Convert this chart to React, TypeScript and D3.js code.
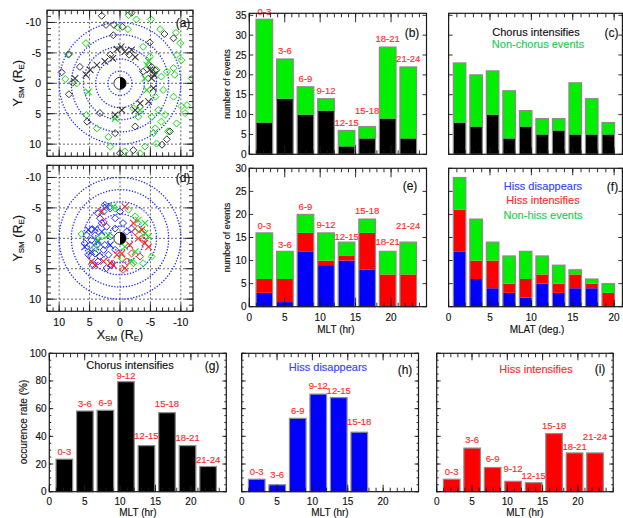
import React from 'react';
import * as d3 from 'd3';

const FONT = '"Liberation Sans", Arial, Helvetica, sans-serif';

// ---------- data ----------
const mltBins = ['0-3', '3-6', '6-9', '9-12', '12-15', '15-18', '18-21', '21-24'];
const mlatBins = ['0-2', '2-4', '4-6', '6-8', '8-10', '10-12', '12-14', '14-16', '16-18', '18-20'];

const chorusByMlt = [8, 14, 10, 11, 2, 4, 9, 4];
const nonChorusByMlt = [26, 10, 7, 3, 4, 3, 18, 18];
const chorusByMlat = [8, 7, 10, 4, 7, 5, 6, 5, 5, 5];
const nonChorusByMlat = [15, 13, 11, 12, 4, 4, 3, 13, 9, 3];

const hissDisByMlt = [3, 1, 12, 9, 10, 8, 0, 0];
const hissIntByMlt = [3, 5, 4, 1, 1, 8, 7, 7];
const nonHissByMlt = [10, 6, 4, 6, 3, 3, 5, 7];
const hissDisByMlat = [12, 6, 4, 3, 2, 5, 3, 4, 4, 0];
const hissIntByMlat = [9, 4, 6, 2, 4, 2, 2, 3, 1, 3];
const nonHissByMlat = [7, 9, 4, 6, 6, 4, 4, 1, 1, 2];

const chorusRate = [23.5, 58.3, 58.8, 79.5, 33.3, 57.1, 33.3, 18.2];
const hissDisRate = [9, 5, 53, 70.5, 68, 43, 0, 0];
const hissIntRate = [9, 31.5, 17.5, 7.5, 6.5, 42, 28, 28];

const xyTicks = [-10, -5, 0, 5, 10];
const mltTicks = [0, 5, 10, 15, 20];
const mlatTicks = [0, 5, 10, 15, 20];
const rateTicks = [0, 20, 40, 60, 80, 100];
const circleRadii = [2, 4, 6, 8, 10];

type Pt = [number, number];

// panel (a): X_SM, Y_SM in R_E
const chorusDiamondsA: Pt[] = [
  [-1.9, -11.6], [3.0, -11.1], [2.3, -9.6], [1.0, -9.6], [-0.4, -9.3], [-7.3, -8.1], [-8.8, -7.4],
  [1.1, -7.9], [-4.9, -6.7], [-1.5, -4.7], [1.6, -4.7], [8.4, -4.8], [6.6, -2.7], [9.6, -1.8],
  [7.8, -0.1], [8.4, 1.8], [3.3, 4.9], [5.4, 6.3], [-2.5, 7.1], [0.8, 8.2], [0, 11.5], [-2.2, 11.0],
  [-6.9, 10.1], [-7.7, 9.2], [-8.2, 7.9], [-5.5, -1.6], [-5.8, -2.1], [-5.2, -2.7], [-3.8, -1.9],
];
const chorusCrossesA: Pt[] = [
  [0.5, -5.6], [-0.2, -6.0], [-0.8, -5.2], [-1.9, -5.5], [-2.5, -4.3], [3.8, -3.0], [2.5, -3.6],
  [1.2, -4.1], [4.9, -2.2], [5.6, -1.4], [7.4, -0.8], [-5.2, -0.8], [-5.5, 0.8], [-4.7, 3.0],
  [-3.3, 3.3], [-2.5, 4.4], [-0.3, 4.4], [0.8, 5.2], [-5.6, -1.4], [-4.9, -2.2],
];
const nonChorusDiamondsA: Pt[] = [
  [-1.4, -11.2], [-2.7, -10.5], [-5.1, -10.5], [0.4, -9.2], [-1.3, -8.9], [-6.6, -8.9], [-9.2, -8.3],
  [5.6, -6.6], [-3.8, -6.0], [-9.9, -6.6], [-9.3, -4.7], [-10.1, -3.8], [8.5, -4.7], [-4.9, -4.4],
  [9.0, -0.7], [7.1, 0], [-6.0, -2.2], [-7.7, -1.9], [-8.8, -2.5], [-9.0, -1.4], [-6.8, -1.1],
  [-11.8, -0.8], [-7.1, 1.1], [-8.8, 2.2], [-5.8, 2.2], [-2.2, 4.1], [-3.0, 5.5], [-6.3, 4.4],
  [-7.4, 5.2], [-5.2, 5.5], [-6.8, 6.3], [-5.8, 7.4], [-9.3, 6.6], [-11.0, 3.6], [5.5, 5.2],
  [3.8, 7.4], [1.9, 8.8], [1.6, 10.4], [-0.8, 11.2], [-3.3, 11.5], [-4.1, 10.4], [-6.0, 9.9],
  [-7.9, 7.9], [-5.5, 8.2], [-10.1, 3.8], [-10.7, 4.9],
];
const nonChorusCrossesA: Pt[] = [
  [-4.4, -3.0], [-4.7, -3.6], [-4.4, 1.1], [5.2, 1.4], [-3.3, 4.4], [0.8, 5.8], [-4.1, -0.8],
];

// panel (d)
const hissDisDiamondsD: Pt[] = [
  [2.5, -5.5], [1.6, -4.9], [2.7, -4.4], [3.6, -4.1], [3.0, -2.5], [4.7, -1.4], [5.5, -0.5], [4.1, -0.5],
  [4.9, 1.1], [3.8, 1.1], [4.1, 2.5], [5.2, 2.7], [3.6, 3.8], [4.4, 4.4], [2.2, 4.9], [1.4, 4.4],
  [1.9, 2.7], [0.8, 1.9], [2.5, 1.1], [1.6, -0.3], [0.8, -1.6], [2.2, -1.9], [0.8, -3.3], [0, -4.4],
  [-0.5, -2.5], [-1.9, -1.6], [-1.1, -1.1], [3.3, -3.3], [5.8, 0.8], [4.7, 0.3], [2.7, 1.9], [3.3, 3.0],
];
const hissDisCrossesD: Pt[] = [
  [5.2, -1.4], [4.1, -1.6], [3.0, -1.1], [4.7, 2.2], [5.8, 1.4], [3.6, 0.5], [1.6, 1.1], [2.2, -5.2],
];
const hissIntCrossesD: Pt[] = [
  [-0.8, -5.2], [3.0, -4.4], [-2.2, -2.5], [-3.0, 0], [-1.6, 1.1], [-4.1, 0.8], [-4.7, 1.4], [4.7, 3.8],
  [4.1, 4.4], [2.7, 3.8], [0.5, 2.7], [-0.3, 2.5], [1.6, 4.1], [1.1, 4.4], [-0.8, 4.9], [-3.6, -1.4],
];
const hissIntDiamondsD: Pt[] = [
  [2.7, -2.7], [-2.5, -1.1], [-3.8, 0.3], [-1.9, 2.5], [-0.5, 5.2], [-3.3, 3.0], [-1.1, 3.8],
];
const nonHissCrossesD: Pt[] = [
  [1.1, -5.2], [-3.0, -3.0], [-4.1, -2.5], [3.6, 0.3], [1.9, -0.5], [-2.5, 2.2], [-4.7, -0.3],
  [-4.1, -0.8], [-0.8, 1.4], [-1.9, 3.8],
];
const nonHissDiamondsD: Pt[] = [
  [6.3, -0.7], [0.8, -4.9], [-1.4, -4.7], [-2.5, -3.6], [-3.0, -1.6], [-3.8, -1.1], [-2.2, 4.1],
  [-3.8, 4.1], [-5.2, 3.0], [-0.3, 3.3], [4.1, 1.6], [3.0, -0.3],
];

// ---------- layout: how far (px) each bin label sits above its bar ----------
const liftB = [8, 8, 8.5, 8.5, 8, 16, 8.5, 8];
const liftE = [7, 7.3, 8, 8, 6, 8.5, 9.5, 16.3];
const liftG = [7.3, 7.7, 7.7, 6, 10, 8.7, 7.7, 6.7];
const liftH = [7.3, 10, 7.7, 8.7, 6.7, 10.7, 8, 8];
const liftI = [8, 9, 9, 12.7, 7, 7.7, 6.7, 16.7];

// ---------- colours ----------
const GREEN = '#00ee00';
const RED = '#ff0000';
const BLUE = '#0000ff';
const LABEL_RED = '#ff2b2b';
const FRAME = '#1a1a1a';

// ---------- helpers ----------
type Lin = d3.ScaleLinear<number, number>;

function range(a: number, b: number, step: number) {
  return d3.range(a, b + 1e-9, step);
}

function Frame({ sx, sy, xMajor, xMinor, yMajor, yMinor, xMaj = 9, xMin = 4, yMaj = 4, yMin = 2 }:
  { sx: Lin; sy: Lin; xMajor: number[]; xMinor: number[]; yMajor: number[]; yMinor: number[]; xMaj?: number; xMin?: number; yMaj?: number; yMin?: number }) {
  const [xa, xb] = sx.range();
  const [ya, yb] = sy.range();
  const left = Math.min(xa, xb), right = Math.max(xa, xb);
  const top = Math.min(ya, yb), bottom = Math.max(ya, yb);
  const segs: number[][] = [];
  const addX = (v: number, len: number) => {
    const p = sx(v);
    segs.push([p, top, p, top + len], [p, bottom, p, bottom - len]);
  };
  const addY = (v: number, len: number) => {
    const p = sy(v);
    segs.push([left, p, left + len, p], [right, p, right - len, p]);
  };
  xMinor.forEach((v) => addX(v, xMin));
  xMajor.forEach((v) => addX(v, xMaj));
  yMinor.forEach((v) => addY(v, yMin));
  yMajor.forEach((v) => addY(v, yMaj));
  return (
    <g>
      {segs.map((s, i) => (
        <line key={i} x1={s[0]} y1={s[1]} x2={s[2]} y2={s[3]} stroke={FRAME} strokeWidth={0.9} />
      ))}
      <rect x={left} y={top} width={right - left} height={bottom - top} fill="none" stroke={FRAME} strokeWidth={1.2} />
    </g>
  );
}

function T({ x, y, children, size = 10, fill = '#111', anchor = 'middle', rotate = 0 }: any) {
  return (
    <text
      x={rotate ? 0 : x}
      y={rotate ? 0 : y}
      transform={rotate ? `translate(${x},${y}) rotate(${rotate})` : undefined}
      fontFamily={FONT}
      fontSize={size}
      fill={fill}
      stroke={fill}
      strokeWidth={0.15}
      textAnchor={anchor}
      dominantBaseline="central"
    >
      {children}
    </text>
  );
}

function Diamond({ x, y, color }: { x: number; y: number; color: string }) {
  const r = 3.5;
  return <path d={`M${x},${y - r}L${x + r},${y}L${x},${y + r}L${x - r},${y}Z`} fill="none" stroke={color} strokeWidth={1} />;
}
function Cross({ x, y, color }: { x: number; y: number; color: string }) {
  const r = 3.3;
  return (
    <path d={`M${x - r},${y - r}L${x + r},${y + r}M${x - r},${y + r}L${x + r},${y - r}`} stroke={color} strokeWidth={1.05} fill="none" />
  );
}

type MarkerSet = { pts: Pt[]; shape: 'd' | 'x'; color: string };

function ScatterPanel({ top, tag, sets, showX }: { top: number; tag: string; sets: MarkerSet[]; showX: boolean }) {
  const sx = d3.scaleLinear().domain([12, -12]).range([47, 193]);
  const sy = d3.scaleLinear().domain([-12, 12]).range([top, top + 146]);
  const cx = sx(0), cy = sy(0);
  const re = Math.abs(sx(1) - sx(0));
  const minor = range(-12, 12, 1);
  return (
    <g>
      <defs>
        <clipPath id={`clip-${tag}`}>
          <rect x={47} y={top} width={146} height={146} />
        </clipPath>
      </defs>
      <g clipPath={`url(#clip-${tag})`}>
        {xyTicks.map((v) => (
          <g key={v}>
            <line x1={sx(v)} x2={sx(v)} y1={sy(-12)} y2={sy(12)} stroke="#222" strokeWidth={0.7} strokeDasharray="2,2" />
            <line y1={sy(v)} y2={sy(v)} x1={sx(-12)} x2={sx(12)} stroke="#222" strokeWidth={0.7} strokeDasharray="2,2" />
          </g>
        ))}
        {circleRadii.map((r) => (
          <circle key={r} cx={cx} cy={cy} r={r * re} fill="none" stroke="#2233ff" strokeWidth={1.5}
            strokeDasharray="0.01 2.9" strokeLinecap="round" />
        ))}
        {sets.map((s, k) =>
          s.pts.map((p, i) =>
            s.shape === 'd' ? (
              <Diamond key={`${k}-${i}`} x={sx(p[0])} y={sy(p[1])} color={s.color} />
            ) : (
              <Cross key={`${k}-${i}`} x={sx(p[0])} y={sy(p[1])} color={s.color} />
            )
          )
        )}
        <circle cx={cx} cy={cy} r={re} fill="#fff" stroke="#000" strokeWidth={0.8} />
        <path d={`M${cx},${cy - re}A${re},${re} 0 0 1 ${cx},${cy + re}Z`} fill="#000" />
      </g>
      <Frame sx={sx} sy={sy} xMajor={xyTicks} xMinor={minor} yMajor={xyTicks} yMinor={minor} xMaj={8} xMin={4} yMaj={8} yMin={4} />
      {xyTicks.map((v) => (
        <T key={v} x={41} y={sy(v)} anchor="end" size={10.5}>{v}</T>
      ))}
      {showX &&
        xyTicks.map((v) => (
          <T key={v} x={sx(v)} y={top + 157} size={10.5}>{v}</T>
        ))}
      <T x={183} y={top + 13} size={12}>{`(${tag})`}</T>
      <text transform={`translate(18,${cy}) rotate(-90)`} fontFamily={FONT} fontSize={12.5} textAnchor="middle" dominantBaseline="central" fill="#111" stroke="#111" strokeWidth={0.15}>
        <tspan>Y</tspan>
        <tspan fontSize={8} dy={3}>SM</tspan>
        <tspan dy={-3}> (R</tspan>
        <tspan fontSize={8} dy={3}>E</tspan>
        <tspan dy={-3}>)</tspan>
      </text>
      {showX && (
        <text x={cx} y={top + 170} fontFamily={FONT} fontSize={12.5} textAnchor="middle" dominantBaseline="central" fill="#111" stroke="#111" strokeWidth={0.15}>
          <tspan>X</tspan>
          <tspan fontSize={8} dy={3}>SM</tspan>
          <tspan dy={-3}> (R</tspan>
          <tspan fontSize={8} dy={3}>E</tspan>
          <tspan dy={-3}>)</tspan>
        </text>
      )}
    </g>
  );
}

type Layer = { values: number[]; color: string };

function Bars({ sx, sy, cats, bandLo, bandHi, pad, layers, lifts }:
  { sx: Lin; sy: Lin; cats: string[]; bandLo: number; bandHi: number; pad: number; layers: Layer[]; lifts?: number[] }) {
  const band = d3.scaleBand<string>().domain(cats).range([sx(bandLo), sx(bandHi)]).paddingInner(pad).paddingOuter(0);
  const keys = layers.map((_, k) => `k${k}`);
  const rows = cats.map((c, i) => {
    const r: any = { cat: c };
    layers.forEach((l, k) => (r[`k${k}`] = l.values[i]));
    return r;
  });
  const series = d3.stack<any>().keys(keys)(rows);
  const totals = rows.map((_, i) => series[series.length - 1][i][1]);
  return (
    <g>
      {series.map((s, k) =>
        s.map((d, i) =>
          d[1] > d[0] ? (
            <rect key={`${k}-${i}`} x={band(cats[i])} width={band.bandwidth()} y={sy(d[1])} height={sy(d[0]) - sy(d[1])} fill={layers[k].color} />
          ) : null
        )
      )}
      {totals.map((t, i) =>
        t > 0 ? (
          <rect key={`o${i}`} x={band(cats[i])} width={band.bandwidth()} y={sy(t)} height={sy(0) - sy(t)} fill="none" stroke="#8c8c8c" strokeWidth={1.2} />
        ) : null
      )}
      {lifts &&
        totals.map((t, i) =>
          t > 0 ? (
            <T key={`l${i}`} x={(band(cats[i]) as number) + band.bandwidth() / 2} y={sy(t) - lifts[i]} size={9.5} fill={LABEL_RED}>
              {cats[i]}
            </T>
          ) : null
        )}
    </g>
  );
}

export default function App() {
  // scales
  const sxB = d3.scaleLinear().domain([0, 25]).range([249.3, 426.5]);
  const sxC = d3.scaleLinear().domain([0, 21]).range([448.6, 622.4]);
  const syB = d3.scaleLinear().domain([0, 35.5]).range([154.3, 13.3]);
  const syE = d3.scaleLinear().domain([0, 30]).range([306.7, 168.3]);
  const sxG = d3.scaleLinear().domain([0, 25]).range([49.3, 226.3]);
  const sxH = d3.scaleLinear().domain([0, 25]).range([241.7, 418.5]);
  const sxI = d3.scaleLinear().domain([0, 25]).range([436.7, 613.2]);
  const syG = d3.scaleLinear().domain([0, 100]).range([491.7, 353.3]);

  const mltMinor = range(0, 25, 1);
  const mlatMinor = range(0, 21, 1);
  const cntMajor35 = range(0, 35, 5);
  const cntMajor30 = range(0, 30, 5);
  const rateMinor = range(0, 100, 5);

  const MLT_LO = 0.95, MLT_HI = 23.6, MLT_PAD = 0.19;
  const MLAT_LO = 0.57, MLAT_HI = 20.05, MLAT_PAD = 0.24;

  return (
    <svg width={623} height={518} style={{ position: 'absolute', left: 0, top: 0, background: '#fff' }}>
      <rect width={623} height={518} fill="#fff" />
      {/* (a) */}
      <ScatterPanel
        top={10.3}
        tag="a"
        showX={false}
        sets={[
          { pts: nonChorusDiamondsA, shape: 'd', color: '#11dd11' },
          { pts: nonChorusCrossesA, shape: 'x', color: '#11dd11' },
          { pts: chorusDiamondsA, shape: 'd', color: '#333' },
          { pts: chorusCrossesA, shape: 'x', color: '#333' },
        ]}
      />
      {/* (d) */}
      <ScatterPanel
        top={165.3}
        tag="d"
        showX={true}
        sets={[
          { pts: hissDisDiamondsD, shape: 'd', color: '#2233ff' },
          { pts: hissDisCrossesD, shape: 'x', color: '#2233ff' },
          { pts: nonHissDiamondsD, shape: 'd', color: '#11dd11' },
          { pts: nonHissCrossesD, shape: 'x', color: '#11dd11' },
          { pts: hissIntDiamondsD, shape: 'd', color: '#ff2222' },
          { pts: hissIntCrossesD, shape: 'x', color: '#ff2222' },
        ]}
      />

      {/* (b) */}
      <Bars sx={sxB} sy={syB} cats={mltBins} bandLo={MLT_LO} bandHi={MLT_HI} pad={MLT_PAD} lifts={liftB}
        layers={[{ values: chorusByMlt, color: '#000' }, { values: nonChorusByMlt, color: GREEN }]} />
      <Frame sx={sxB} sy={syB} xMajor={mltTicks} xMinor={mltMinor} yMajor={cntMajor35} yMinor={[]} />
      {cntMajor35.map((v) => (
        <T key={v} x={246.5} y={syB(v)} anchor="end" size={10}>{v}</T>
      ))}
      <T x={227} y={84} size={9} rotate={-90}>number of events</T>
      <T x={412} y={33} size={12}>(b)</T>

      {/* (c) */}
      <Bars sx={sxC} sy={syB} cats={mlatBins} bandLo={MLAT_LO} bandHi={MLAT_HI} pad={MLAT_PAD}
        layers={[{ values: chorusByMlat, color: '#000' }, { values: nonChorusByMlat, color: GREEN }]} />
      <Frame sx={sxC} sy={syB} xMajor={mlatTicks} xMinor={mlatMinor} yMajor={cntMajor35} yMinor={[]} xMaj={7} />
      <T x={536} y={31.7} size={11}>Chorus intensifies</T>
      <T x={538} y={44.3} size={11} fill="#22cc55">Non-chorus events</T>
      <T x={611.5} y={33} size={12}>(c)</T>

      {/* (e) */}
      <Bars sx={sxB} sy={syE} cats={mltBins} bandLo={MLT_LO} bandHi={MLT_HI} pad={MLT_PAD} lifts={liftE}
        layers={[
          { values: hissDisByMlt, color: BLUE },
          { values: hissIntByMlt, color: RED },
          { values: nonHissByMlt, color: GREEN },
        ]} />
      <Frame sx={sxB} sy={syE} xMajor={mltTicks} xMinor={mltMinor} yMajor={cntMajor30} yMinor={[]} />
      {cntMajor30.map((v) => (
        <T key={v} x={246.5} y={syE(v)} anchor="end" size={10}>{v}</T>
      ))}
      {mltTicks.map((v) => (
        <T key={v} x={sxB(v)} y={317.5} size={10}>{v}</T>
      ))}
      <T x={227} y={237.5} size={9} rotate={-90}>number of events</T>
      <T x={336} y={329} size={10}>MLT (hr)</T>
      <T x={410} y={186} size={12}>(e)</T>

      {/* (f) */}
      <Bars sx={sxC} sy={syE} cats={mlatBins} bandLo={MLAT_LO} bandHi={MLAT_HI} pad={MLAT_PAD}
        layers={[
          { values: hissDisByMlat, color: BLUE },
          { values: hissIntByMlat, color: RED },
          { values: nonHissByMlat, color: GREEN },
        ]} />
      <Frame sx={sxC} sy={syE} xMajor={mlatTicks} xMinor={mlatMinor} yMajor={cntMajor30} yMinor={[]} xMaj={7} />
      {mlatTicks.map((v) => (
        <T key={v} x={sxC(v)} y={317.5} size={10}>{v}</T>
      ))}
      <T x={537} y={329} size={10}>MLAT (deg.)</T>
      <T x={543} y={186} size={11} fill="#3344ff">Hiss disappears</T>
      <T x={543} y={199.5} size={11} fill="#ff2a2a">Hiss intensifies</T>
      <T x={543} y={215} size={11} fill="#22cc55">Non-hiss events</T>
      <T x={612.5} y={186.5} size={12}>(f)</T>

      {/* (g) */}
      <Bars sx={sxG} sy={syG} cats={mltBins} bandLo={MLT_LO} bandHi={MLT_HI} pad={MLT_PAD} lifts={liftG}
        layers={[{ values: chorusRate, color: '#000' }]} />
      <Frame sx={sxG} sy={syG} xMajor={mltTicks} xMinor={mltMinor} yMajor={rateTicks} yMinor={rateMinor} xMaj={7} />
      {rateTicks.map((v) => (
        <T key={v} x={46.5} y={syG(v)} anchor="end" size={10}>{v}</T>
      ))}
      {mltTicks.map((v) => (
        <T key={v} x={sxG(v)} y={501} size={10}>{v}</T>
      ))}
      <T x={23} y={422} size={10} rotate={-90}>occurence rate (%)</T>
      <T x={138} y={512} size={10}>MLT (hr)</T>
      <T x={130} y={364.5} size={11}>Chorus intensifies</T>
      <T x={212} y={366} size={12}>(g)</T>

      {/* (h) */}
      <Bars sx={sxH} sy={syG} cats={mltBins} bandLo={MLT_LO} bandHi={MLT_HI} pad={MLT_PAD} lifts={liftH}
        layers={[{ values: hissDisRate, color: BLUE }]} />
      <Frame sx={sxH} sy={syG} xMajor={mltTicks} xMinor={mltMinor} yMajor={rateTicks} yMinor={rateMinor} xMaj={7} />
      {mltTicks.map((v) => (
        <T key={v} x={sxH(v)} y={501} size={10}>{v}</T>
      ))}
      <T x={330} y={512} size={10}>MLT (hr)</T>
      <T x={328} y={366.7} size={11} fill="#3344ff">Hiss disappears</T>
      <T x={405} y={369.5} size={12}>(h)</T>

      {/* (i) */}
      <Bars sx={sxI} sy={syG} cats={mltBins} bandLo={MLT_LO} bandHi={MLT_HI} pad={MLT_PAD} lifts={liftI}
        layers={[{ values: hissIntRate, color: RED }]} />
      <Frame sx={sxI} sy={syG} xMajor={mltTicks} xMinor={mltMinor} yMajor={rateTicks} yMinor={rateMinor} xMaj={7} />
      {mltTicks.map((v) => (
        <T key={v} x={sxI(v)} y={501} size={10}>{v}</T>
      ))}
      <T x={525} y={512} size={10}>MLT (hr)</T>
      <T x={536} y={369.3} size={11} fill="#ff2a2a">Hiss intensifies</T>
      <T x={600} y={369.3} size={12}>(i)</T>
    </svg>
  );
}
